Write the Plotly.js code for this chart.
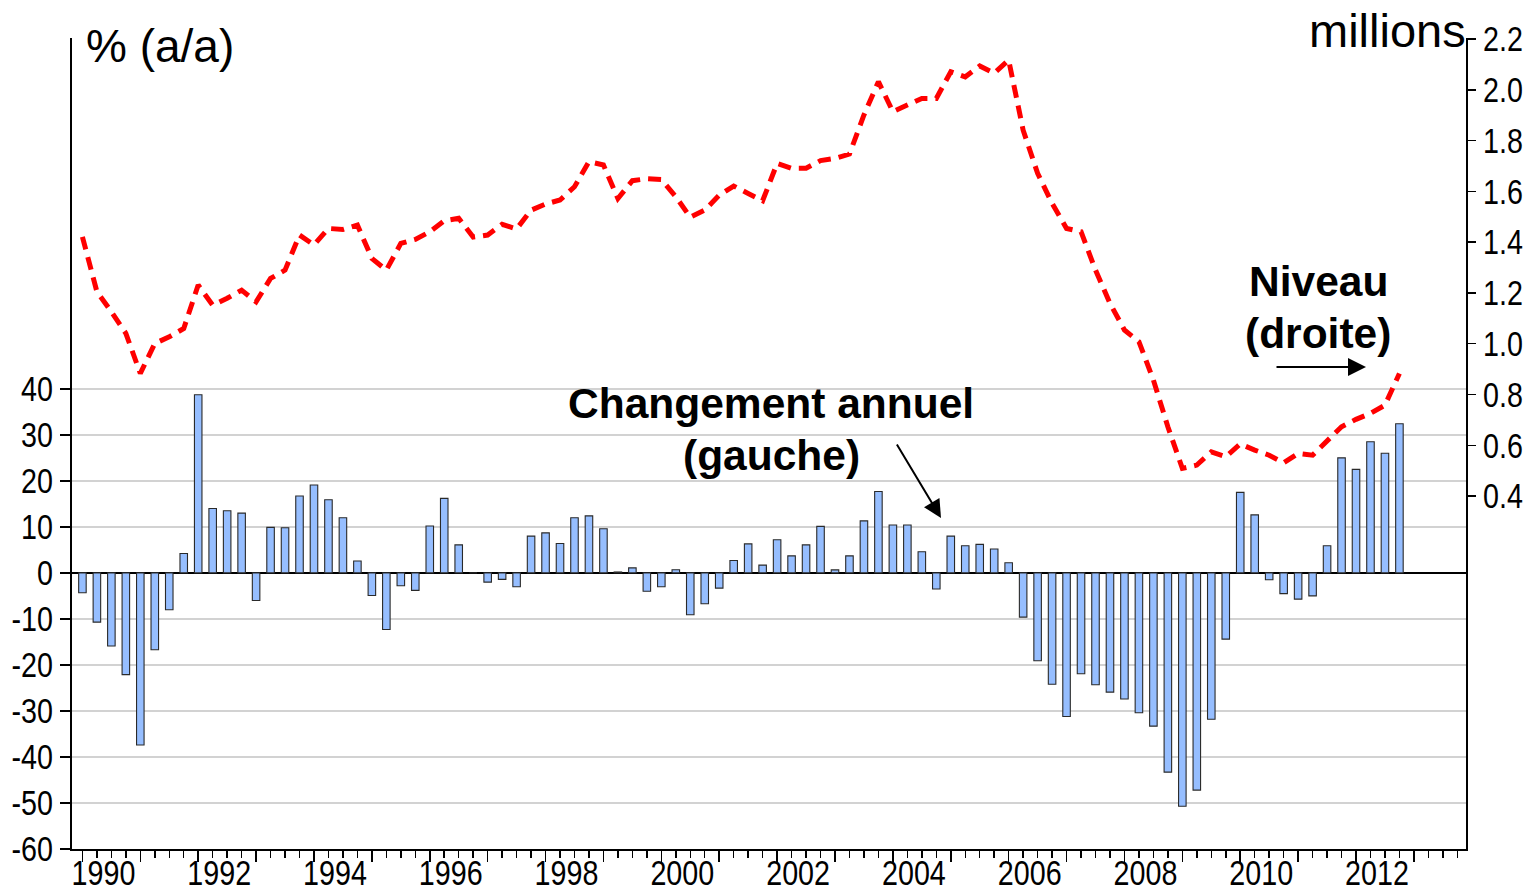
<!DOCTYPE html>
<html>
<head>
<meta charset="utf-8">
<script src="https://cdn.plot.ly/plotly-3.0.1.min.js"></script>
<style>html,body{margin:0;padding:0;background:#fff}#chart{width:1527px;height:890px}</style>
</head>
<body>
<div id="chart"></div>
<script>
// Quarterly data, 1990Q1 .. 2012Q4
const startYear = 1990;

// Annual change (%), left axis
const changeAnnuel = [
  -4.3, -10.7, -15.9, -22.1,   // 1990
  -37.4, -16.7, -8.0, 4.2,     // 1991
  38.7, 14.0, 13.5, 13.0,      // 1992
  -6.0, 9.9, 9.8, 16.7,        // 1993
  19.1, 15.9, 12.0, 2.6,       // 1994
  -4.9, -12.3, -2.8, -3.8,     // 1995
  10.2, 16.2, 6.1, 0.0,        // 1996
  -2.0, -1.4, -3.0, 8.0,       // 1997
  8.7, 6.4, 12.0, 12.4,        // 1998
  9.6, 0.2, 1.1, -4.0,         // 1999
  -3.0, 0.7, -9.1, -6.7,       // 2000
  -3.3, 2.7, 6.3, 1.7,         // 2001
  7.2, 3.7, 6.1, 10.1,         // 2002
  0.65, 3.7, 11.3, 17.7,       // 2003
  10.4, 10.4, 4.6, -3.5,       // 2004
  8.0, 5.9, 6.2, 5.2,          // 2005
  2.2, -9.6, -19.1, -24.2,     // 2006
  -31.2, -21.9, -24.3, -25.9,  // 2007
  -27.4, -30.4, -33.3, -43.3,  // 2008
  -50.7, -47.2, -31.8, -14.4,  // 2009
  17.5, 12.6, -1.5, -4.5,      // 2010
  -5.7, -5.0, 5.9, 25.0,       // 2011
  22.5, 28.5, 26.0, 32.4       // 2012
];

// Level (millions), right axis
const niveau = [
  1.421, 1.205, 1.126, 1.041,  // 1990
  0.883, 1.001, 1.027, 1.060,  // 1991
  1.231, 1.152, 1.179, 1.211,  // 1992
  1.165, 1.257, 1.290, 1.428,  // 1993
  1.389, 1.454, 1.450, 1.467,  // 1994
  1.336, 1.290, 1.395, 1.411,  // 1995
  1.441, 1.484, 1.494, 1.420,  // 1996
  1.428, 1.470, 1.452, 1.526,  // 1997
  1.550, 1.566, 1.618, 1.717,  // 1998
  1.704, 1.572, 1.642, 1.650,  // 1999
  1.647, 1.579, 1.498, 1.526,  // 2000
  1.585, 1.621, 1.592, 1.563,  // 2001
  1.710, 1.691, 1.691, 1.721,  // 2002
  1.730, 1.747, 1.901, 2.032,  // 2003
  1.914, 1.940, 1.966, 1.966,  // 2004
  2.071, 2.051, 2.094, 2.065,  // 2005
  2.117, 1.841, 1.671, 1.553,  // 2006
  1.454, 1.441, 1.290, 1.159,  // 2007
  1.054, 1.008, 0.857, 0.673,  // 2008
  0.509, 0.522, 0.574, 0.555,  // 2009
  0.605, 0.581, 0.561, 0.531,  // 2010
  0.568, 0.561, 0.614, 0.673,  // 2011
  0.702, 0.726, 0.758, 0.883   // 2012
];

// Axis ticks
const yearTicks = [1990,1991,1992,1993,1994,1995,1996,1997,1998,1999,2000,2001,2002,2003,2004,2005,2006,2007,2008,2009,2010,2011,2012,2013];
const yearLabels = ["1990","","1992","","1994","","1996","","1998","","2000","","2002","","2004","","2006","","2008","","2010","","2012",""];
const leftTicks = [-60,-50,-40,-30,-20,-10,0,10,20,30,40];
const leftLabels = ["-60","-50","-40","-30","-20","-10","0","10","20","30","40"];
const rightTicks = [0.4,0.6,0.8,1.0,1.2,1.4,1.6,1.8,2.0,2.2];
const rightLabels = ["0.4","0.6","0.8","1.0","1.2","1.4","1.6","1.8","2.0","2.2"];

const xq = changeAnnuel.map((_, i) => startYear + i / 4);

const sans = '"Liberation Sans", Arial, sans-serif';
const tickFont = {family: sans, size: 35, color: '#000'};

// plot area in pixels (for placing annotations)
const L = 72, R = 1466, T = 38, B = 849;
const px = x => (x - L) / (R - L);
const py = y => (B - y) / (B - T);

const traces = [
  {
    type: 'bar', x: xq, y: changeAnnuel, yaxis: 'y', width: 0.13,
    marker: {color: '#96BEFF', line: {color: '#2a2a2a', width: 1.1}},
    hoverinfo: 'skip'
  },
  {
    type: 'scatter', mode: 'lines', x: xq, y: niveau, yaxis: 'y2',
    line: {color: '#FF0000', width: 5, dash: '13px,8px'},
    hoverinfo: 'skip'
  }
];

const layout = {
  width: 1527, height: 890,
  margin: {l: L, r: 1527 - R, t: T, b: 890 - B, pad: 0},
  paper_bgcolor: '#fff', plot_bgcolor: '#fff',
  showlegend: false,
  xaxis: {
    range: [1989.82, 2013.9],
    tickmode: 'array', tickvals: yearTicks, ticktext: yearLabels,
    ticks: 'outside', ticklen: 11, tickwidth: 1.5, tickcolor: '#000',
    ticklabelshift: 21,
    showline: true, linewidth: 2, linecolor: '#000',
    showgrid: false, zeroline: false,
    tickfont: tickFont,
    minor: {tickmode: 'linear', tick0: 1990, dtick: 0.25, ticks: 'outside', ticklen: 7, tickwidth: 1.5, tickcolor: '#000', showgrid: false}
  },
  yaxis: {
    range: [-60, 116.24],
    tickmode: 'array', tickvals: leftTicks, ticktext: leftLabels,
    ticks: 'outside', ticklen: 10, tickwidth: 1.5, tickcolor: '#000',
    showline: true, linewidth: 2, linecolor: '#000',
    showgrid: true, gridcolor: '#d2d2d2', gridwidth: 1.5,
    zeroline: true, zerolinecolor: '#000', zerolinewidth: 2,
    tickfont: tickFont
  },
  yaxis2: {
    overlaying: 'y', side: 'right',
    range: [-0.99, 2.204],
    tickmode: 'array', tickvals: rightTicks, ticktext: rightLabels,
    ticks: 'outside', ticklen: 8, tickwidth: 1.5, tickcolor: '#000',
    showline: true, linewidth: 2, linecolor: '#000',
    showgrid: false, zeroline: false,
    tickfont: tickFont
  },
  annotations: [
    {xref: 'paper', yref: 'paper', x: px(84), y: py(46), xanchor: 'left', yanchor: 'middle',
     text: '% (a/a)', showarrow: false, font: {family: sans, size: 46, color: '#000'}},
    {xref: 'paper', yref: 'paper', x: px(1468), y: py(31), xanchor: 'right', yanchor: 'middle',
     text: 'millions', showarrow: false, font: {family: sans, size: 47, color: '#000'}},
    {xref: 'paper', yref: 'paper', x: px(771), y: py(403), xanchor: 'center', yanchor: 'middle',
     text: '<b>Changement annuel</b>', showarrow: false, font: {family: sans, size: 42.5, color: '#000'}},
    {xref: 'paper', yref: 'paper', x: px(771), y: py(455), xanchor: 'center', yanchor: 'middle',
     text: '<b>(gauche)</b>', showarrow: false, font: {family: sans, size: 42.5, color: '#000'}},
    {xref: 'paper', yref: 'paper', x: px(1318), y: py(281), xanchor: 'center', yanchor: 'middle',
     text: '<b>Niveau</b>', showarrow: false, font: {family: sans, size: 42.5, color: '#000'}},
    {xref: 'paper', yref: 'paper', x: px(1318), y: py(333), xanchor: 'center', yanchor: 'middle',
     text: '<b>(droite)</b>', showarrow: false, font: {family: sans, size: 42.5, color: '#000'}},
    {xref: 'paper', yref: 'paper', x: px(941), y: py(518), text: '', showarrow: true,
     ax: -45, ay: -75, arrowhead: 2, arrowsize: 1.8, arrowwidth: 2, arrowcolor: '#000', standoff: 0},
    {xref: 'paper', yref: 'paper', x: px(1366), y: py(367), text: '', showarrow: true,
     ax: -91, ay: 0, arrowhead: 2, arrowsize: 1.8, arrowwidth: 2, arrowcolor: '#000', standoff: 0}
  ]
};

// Narrow the tick labels horizontally (condensed look) about their anchor point
function condense(gd, sel, sx, dy) {
  gd.querySelectorAll(sel).forEach(t => {
    const X = parseFloat(t.getAttribute('x')) || 0;
    const old = t.getAttribute('transform') || '';
    t.setAttribute('transform', old + ` translate(${X},${dy}) scale(${sx},1) translate(${-X},0)`);
  });
}

Plotly.newPlot('chart', traces, layout, {staticPlot: true, displayModeBar: false}).then(gd => {
  condense(gd, '.xtick text', 0.82, -19);
  condense(gd, '.ytick text', 0.82, 0);
  condense(gd, '.y2tick text', 0.82, 0);
});
</script>
</body>
</html>
